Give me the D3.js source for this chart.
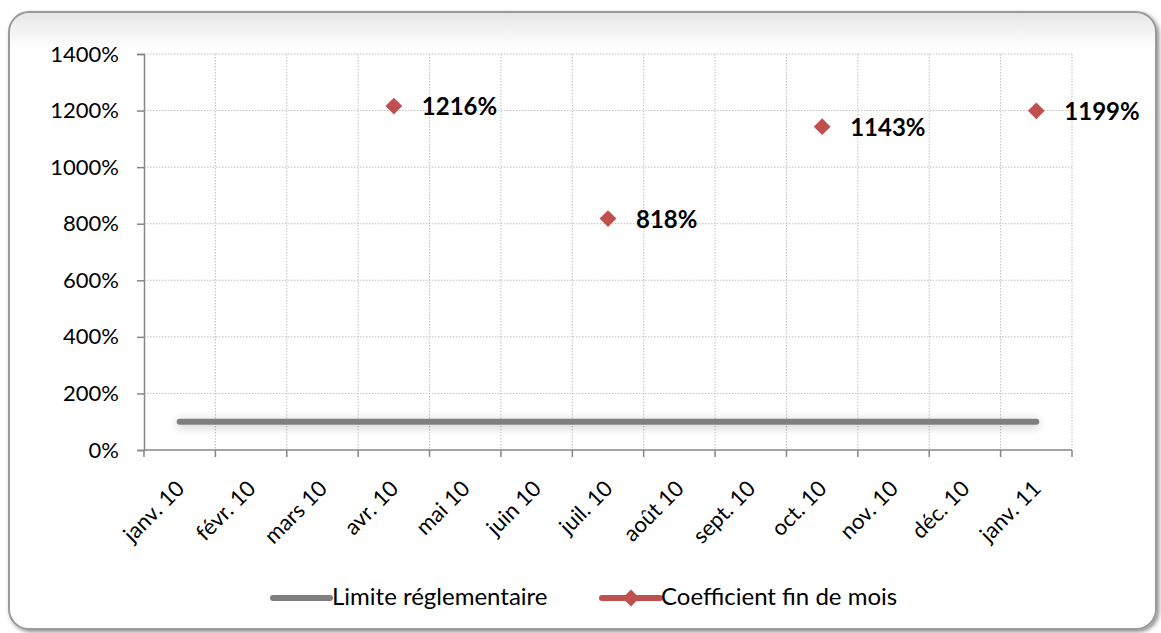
<!DOCTYPE html>
<html>
<head>
<meta charset="utf-8">
<script src="https://cdn.jsdelivr.net/npm/d3@7"></script>
<style>
  html, body { margin: 0; padding: 0; background: #fff; }
  svg { display: block; }
</style>
</head>
<body>
<svg id="chart" width="1161" height="633"></svg>
<script>
// Months on the category axis
const months = ["janv. 10", "févr. 10", "mars 10", "avr. 10", "mai 10", "juin 10",
  "juil. 10", "août 10", "sept. 10", "oct. 10", "nov. 10", "déc. 10", "janv. 11"];
// Regulatory limit (percent), constant every month
const limite = [100, 100, 100, 100, 100, 100, 100, 100, 100, 100, 100, 100, 100];
// End-of-month coefficient (percent); null where there is no measurement
const coefficient = [null, null, null, 1216, null, null, 818, null, null, 1143, null, null, 1199];
// Value axis ticks
const yTicks = [0, 200, 400, 600, 800, 1000, 1200, 1400];

(function () {
const svg = d3.select("#chart");
const font = "'Lato', 'Open Sans', sans-serif";

// Rounded frame with soft shadow
const defs = svg.append("defs");
const sh = defs.append("filter").attr("id", "frameShadow").attr("x", "-5%").attr("y", "-5%").attr("width", "110%").attr("height", "110%");
sh.append("feDropShadow").attr("dx", 2).attr("dy", 2).attr("stdDeviation", 2).attr("flood-color", "#000").attr("flood-opacity", 0.45);
const grad = defs.append("linearGradient").attr("id", "frameFill").attr("x1", 0).attr("y1", 0).attr("x2", 0).attr("y2", 1);
grad.append("stop").attr("offset", "0%").attr("stop-color", "#e6e6e6");
grad.append("stop").attr("offset", "6%").attr("stop-color", "#ffffff");
grad.append("stop").attr("offset", "100%").attr("stop-color", "#ffffff");
const glow = defs.append("filter").attr("id", "lineGlow").attr("filterUnits", "userSpaceOnUse")
  .attr("x", 120).attr("y", 380).attr("width", 980).attr("height", 80);
glow.append("feGaussianBlur").attr("in", "SourceAlpha").attr("stdDeviation", 5).attr("result", "b");
glow.append("feOffset").attr("in", "b").attr("dx", 0).attr("dy", 2).attr("result", "o");
glow.append("feComponentTransfer").attr("in", "o").attr("result", "s")
  .append("feFuncA").attr("type", "linear").attr("slope", 0.25);
const m = glow.append("feMerge");
m.append("feMergeNode").attr("in", "s");
m.append("feMergeNode").attr("in", "SourceGraphic");

svg.append("rect")
  .attr("x", 9).attr("y", 12).attr("width", 1147).attr("height", 617)
  .attr("rx", 20).attr("ry", 20)
  .attr("fill", "url(#frameFill)")
  .attr("stroke", "#9a9a9a").attr("stroke-width", 2)
  .attr("filter", "url(#frameShadow)");

// Plot area
const pLeft = 144, pRight = 1072, pTop = 54, pBottom = 450;

const x = d3.scaleBand().domain(months).range([pLeft, pRight]).padding(0);
const y = d3.scaleLinear().domain([0, 1400]).range([pBottom, pTop]);
const cx = d => x(d) + x.bandwidth() / 2;

const g = svg.append("g");
const gridColor = "#bfbfbf";

// Horizontal gridlines
g.append("g").selectAll("line").data(yTicks.filter(v => v > 0)).join("line")
  .attr("x1", pLeft).attr("x2", pRight)
  .attr("y1", d => y(d)).attr("y2", d => y(d))
  .attr("stroke", gridColor).attr("stroke-width", 1).attr("stroke-dasharray", "1.5,1.5");

// Vertical gridlines at band boundaries
const bounds = months.map(d => x(d)).slice(1).concat([pRight]);
g.append("g").selectAll("line").data(bounds).join("line")
  .attr("x1", d => d).attr("x2", d => d)
  .attr("y1", pTop).attr("y2", pBottom)
  .attr("stroke", gridColor).attr("stroke-width", 1).attr("stroke-dasharray", "1.5,1.5");

// Y axis
const yAxis = g.append("g").attr("transform", `translate(${pLeft},0)`)
  .call(d3.axisLeft(y).tickValues(yTicks).tickSize(7).tickPadding(18).tickFormat(d => d + "%"));
yAxis.select(".domain").attr("stroke", "#868686").attr("stroke-width", 1.5);
yAxis.selectAll(".tick line").attr("stroke", "#868686").attr("stroke-width", 1.5);
yAxis.selectAll("text").attr("font-family", font).attr("font-size", 22).attr("fill", "#000");

// X axis with ticks at band boundaries
const xAxis = g.append("g").attr("transform", `translate(0,${pBottom})`);
xAxis.append("line").attr("x1", pLeft).attr("x2", pRight).attr("y1", 0).attr("y2", 0)
  .attr("stroke", "#868686").attr("stroke-width", 1.5);
xAxis.selectAll("line.tk").data(months.map(d => x(d)).concat([pRight])).join("line")
  .attr("class", "tk")
  .attr("x1", d => d).attr("x2", d => d).attr("y1", 0).attr("y2", 7)
  .attr("stroke", "#868686").attr("stroke-width", 1.5);
xAxis.selectAll("text").data(months).join("text")
  .attr("transform", d => `translate(${cx(d) + 6},${40}) rotate(-45)`)
  .attr("text-anchor", "end")
  .attr("font-family", font).attr("font-size", 22).attr("fill", "#000")
  .text(d => d);

// Regulatory limit line
const limitLine = d3.line().x((d, i) => cx(months[i])).y(d => y(d));
g.append("path").datum(limite)
  .attr("d", limitLine)
  .attr("fill", "none").attr("stroke", "#7f7f7f").attr("stroke-width", 6)
  .attr("stroke-linecap", "round")
  .attr("filter", "url(#lineGlow)");

// Coefficient markers and labels
const pts = coefficient.map((v, i) => ({ m: months[i], v })).filter(d => d.v != null);
const diamond = d3.symbol().type(d3.symbolDiamond2).size(180);
g.append("g").selectAll("path").data(pts).join("path")
  .attr("transform", d => `translate(${cx(d.m)},${y(d.v)})`)
  .attr("d", diamond)
  .attr("fill", "#c0504d");
g.append("g").selectAll("text").data(pts).join("text")
  .attr("x", d => cx(d.m) + 28)
  .attr("y", d => y(d.v) + 9)
  .attr("font-family", font).attr("font-size", 24).attr("font-weight", "bold").attr("fill", "#000")
  .text(d => d.v + "%");

// Legend
const leg = svg.append("g").attr("transform", "translate(0,598)");
leg.append("line").attr("x1", 273).attr("x2", 330).attr("y1", 0).attr("y2", 0)
  .attr("stroke", "#7f7f7f").attr("stroke-width", 6).attr("stroke-linecap", "round");
leg.append("text").attr("x", 332).attr("y", 7).attr("font-family", font).attr("font-size", 24)
  .text("Limite réglementaire");
leg.append("line").attr("x1", 602).attr("x2", 660).attr("y1", 0).attr("y2", 0)
  .attr("stroke", "#c0504d").attr("stroke-width", 6).attr("stroke-linecap", "round");
leg.append("path").attr("transform", "translate(631,0)").attr("d", diamond).attr("fill", "#c0504d");
leg.append("text").attr("x", 661).attr("y", 7).attr("font-family", font).attr("font-size", 24)
  .text("Coefficient fin de mois");
})();
</script>
</body>
</html>
